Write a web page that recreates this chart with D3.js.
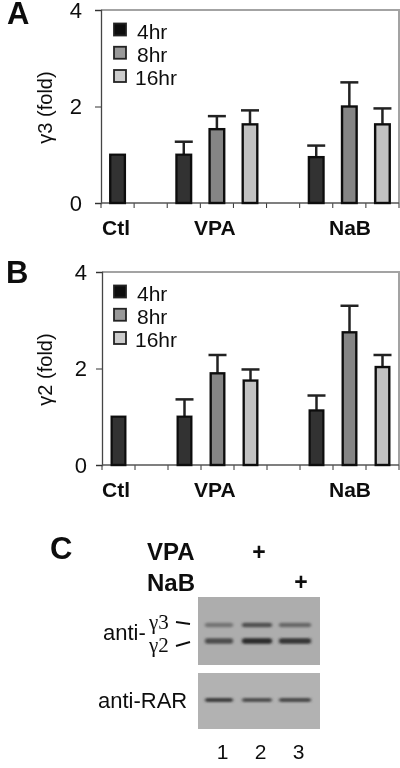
<!DOCTYPE html>
<html><head><meta charset="utf-8">
<script src="https://d3js.org/d3.v7.min.js"></script>
<style>html,body{margin:0;padding:0;background:#fff}svg{display:block}text{font-family:"Liberation Sans",Arial,sans-serif;fill:#111}</style>
</head><body><svg id="c" width="400" height="768"></svg>
<script>
const groupLabels = ["Ctl","VPA","NaB"];
const legendLabels = ["4hr","8hr","16hr"];
const slots = [0,1,2,3,4,5,6,7,8];
const barSlots = [0,2,3,4,6,7,8];
const barSeries = [0,0,1,2,0,1,2];
const yTicks = [0,2,4];
const valuesA = [1,1,1.53,1.63,0.95,2,1.63];
const errTopsA = [null,1.27,1.8,1.92,1.19,2.5,1.96];
const valuesB = [1,1,1.9,1.75,1.13,2.75,2.03];
const errTopsB = [null,1.36,2.28,1.98,1.44,3.3,2.28];
const seriesFill = ["#333333","#858585","#c2c2c2"];
const lanes = [1,2,3];
const gamma3Bands = [0.4,0.7,0.5];
const gamma2Bands = [0.72,1,0.9];
const rarBands = [0.85,0.7,0.75];

const svg = d3.select("#c");
const defs = svg.append("defs");
defs.append("filter").attr("id","blur").attr("x","-20%").attr("y","-100%").attr("width","140%").attr("height","300%")
  .append("feGaussianBlur").attr("stdDeviation","1.8 0.9");
defs.append("filter").attr("id","soft").attr("x","-5%").attr("y","-5%").attr("width","110%").attr("height","110%")
  .append("feGaussianBlur").attr("stdDeviation","0.35");

const root = svg.append("g").attr("filter","url(#soft)");

function panel(o){
  const x = d3.scaleBand().domain(slots).range([o.left,o.right]).paddingInner(0).paddingOuter(0);
  const y = d3.scaleLinear().domain([0,4]).range([o.bottom,o.top]);
  const g = root.append("g");
  g.append("path").attr("d",`M${o.left},${o.top}H${o.right}V${o.bottom}`).attr("fill","none").attr("stroke","#a3a3a3").attr("stroke-width",2);
  const yAxis = g.append("g").attr("transform",`translate(${o.left},0)`)
    .call(d3.axisLeft(y).tickValues(yTicks).tickSize(6).tickFormat(d3.format("d")));
  yAxis.select(".domain").attr("stroke","#444").attr("stroke-width",1.3);
  yAxis.selectAll("line").attr("stroke","#333");
  yAxis.selectAll("text").attr("font-size",22).attr("font-family","'Liberation Sans',Arial,sans-serif").attr("fill","#111").attr("dx",o.tickDx).attr("dy","0.34em");
  const ticks = slots.concat([9]).map(i=> i<9 ? x(i) : o.right);
  g.selectAll(".xt").data(ticks).join("line").attr("x1",d=>d).attr("x2",d=>d)
    .attr("y1",o.bottom).attr("y2",o.bottom+5).attr("stroke","#333");
  g.append("line").attr("x1",o.left).attr("x2",o.right).attr("y1",o.bottom).attr("y2",o.bottom).attr("stroke","#555").attr("stroke-width",1.5);

  const cx = i => x(barSlots[i]) + x.bandwidth()/2;
  const w = o.barW;
  const eg = g.append("g");
  o.errs.forEach((t,i)=>{
    if(t==null) return;
    eg.append("line").attr("x1",cx(i)).attr("x2",cx(i)).attr("y1",y(o.vals[i])).attr("y2",y(t)).attr("stroke","#222").attr("stroke-width",2.5);
    eg.append("line").attr("x1",cx(i)-9).attr("x2",cx(i)+9).attr("y1",y(t)).attr("y2",y(t)).attr("stroke","#222").attr("stroke-width",2.5);
  });
  g.selectAll(".bar").data(o.vals).join("rect")
    .attr("x",(d,i)=>cx(i)-w/2).attr("width",w)
    .attr("y",d=>y(d)).attr("height",d=>y(0)-y(d))
    .attr("fill",(d,i)=>seriesFill[barSeries[i]]).attr("stroke","#111").attr("stroke-width",2.4);

  const ly = d3.scalePoint().domain(legendLabels).range([o.top+19.5,o.top+66]);
  legendLabels.forEach((l,i)=>{
    g.append("rect").attr("x",114).attr("y",ly(l)-6).attr("width",12).attr("height",12)
      .attr("fill",i==0?"#111":i==1?"#999":"#ccc").attr("stroke","#222").attr("stroke-width",1.8);
    g.append("text").attr("x",i==2?135:137).attr("y",ly(l)+9).attr("font-size",21).text(l);
  });
  root.append("text").attr("transform",`translate(${o.ylabX},${(o.top+o.bottom)/2+1}) rotate(-90)`)
    .attr("text-anchor","middle").attr("font-size",20).attr("fill","#333").text(o.ylab);
  const gx = [102,194,329];
  groupLabels.forEach((l,i)=>{
    root.append("text").attr("x",gx[i]).attr("y",o.bottom+32).attr("font-size",21).attr("font-weight","bold").text(l);
  });
  root.append("text").attr("x",o.letterX).attr("y",o.letterY).attr("font-size",31).attr("font-weight","bold").attr("fill","#000").text(o.letter);
}
panel({left:101,right:399,top:10,bottom:203,barW:14.6,vals:valuesA,errs:errTopsA,ylab:"γ3 (fold)",ylabX:52,letter:"A",letterX:7,letterY:24,tickDx:-10,});
panel({left:102,right:399,top:272,bottom:465,barW:13.6,vals:valuesB,errs:errTopsB,ylab:"γ2 (fold)",ylabX:52,letter:"B",letterX:6,letterY:283,tickDx:-6});

/* panel C */
const lx = d3.scalePoint().domain(lanes).range([219,295]);
const dark = d3.scaleLinear().domain([0,1]).range(["#a6a6a6","#2a2a2a"]);
function blot(y0,y1,fill){
  root.append("rect").attr("x",198).attr("y",y0).attr("width",122).attr("height",y1-y0).attr("fill",fill);
}
function bands(vals,yc,h){
  root.selectAll(null).data(vals).join("rect")
    .attr("x",(d,i)=>lx(lanes[i])-14-i).attr("y",yc-h/2).attr("width",(d,i)=>28+2*i).attr("height",h)
    .attr("rx",2).attr("fill",d=>dark(d)).attr("filter","url(#blur)");
}
blot(597,665,"#adadad");
blot(673,729,"#b2b2b2");
bands(gamma3Bands,625,4.5);
bands(gamma2Bands,641,5.5);
bands(rarBands,700,4);

const T=(x,y,s,size,extra={})=>{const t=root.append("text").attr("x",x).attr("y",y).attr("font-size",size).text(s);
  Object.entries(extra).forEach(([k,v])=>t.attr(k,v));return t;};
T(50,559,"C",31,{"font-weight":"bold",fill:"#000"});
T(147,560,"VPA",24,{"font-weight":"bold"});
T(147,591,"NaB",24,{"font-weight":"bold"});
T(259,560,"+",23,{"font-weight":"bold","text-anchor":"middle"});
T(301,590,"+",23,{"font-weight":"bold","text-anchor":"middle"});
T(103,640,"anti-",22);
T(149,629,"γ3",21,{"style":"font-family:'Liberation Serif',serif"});
T(149,652,"γ2",21,{"style":"font-family:'Liberation Serif',serif"});
T(98,708,"anti-RAR",22);
root.append("line").attr("x1",176).attr("y1",622).attr("x2",190).attr("y2",624).attr("stroke","#111").attr("stroke-width",2);
root.append("line").attr("x1",176).attr("y1",646).attr("x2",190).attr("y2",642).attr("stroke","#111").attr("stroke-width",2);
lanes.forEach(l=>T(lx(l)+3.5,759,String(l),21,{"text-anchor":"middle"}));
</script></body></html>
